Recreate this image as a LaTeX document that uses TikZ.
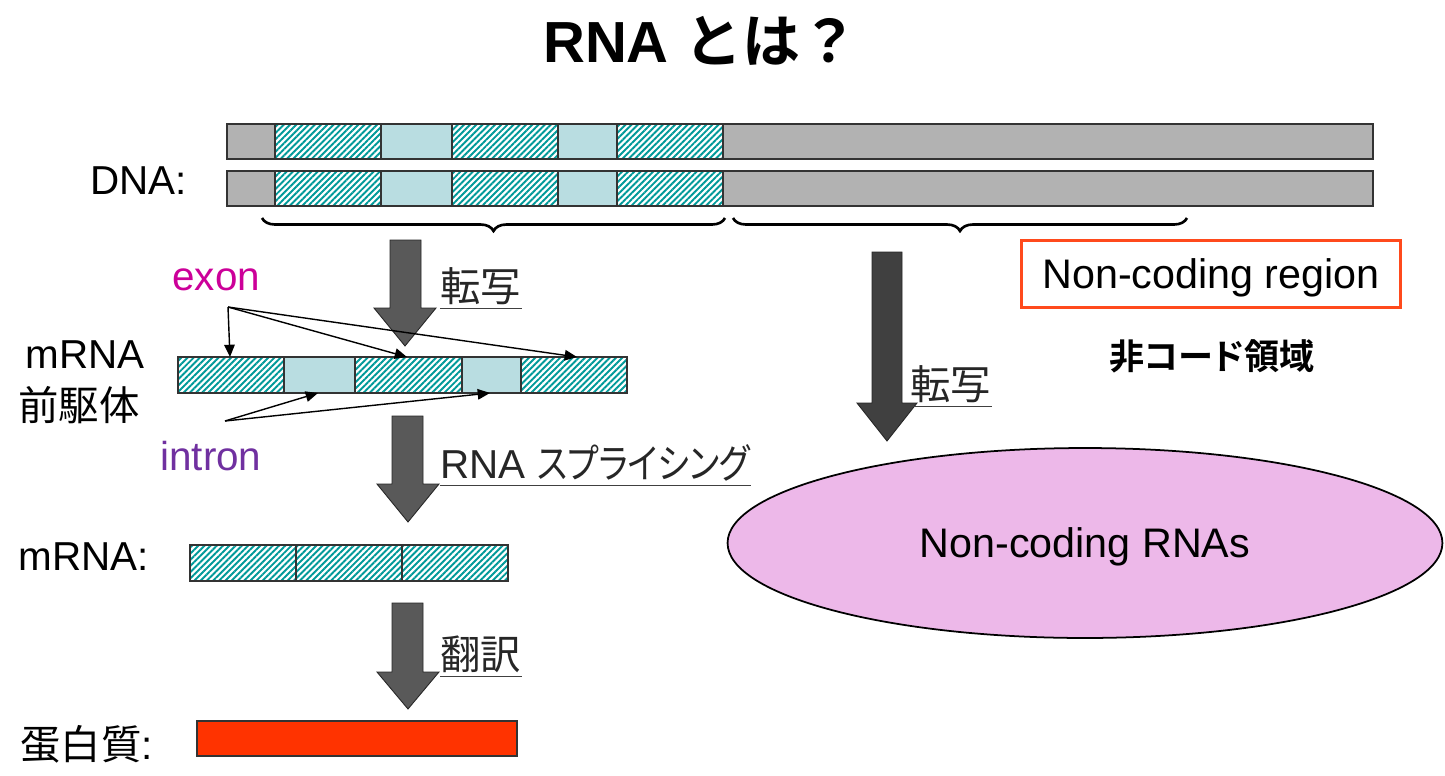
\documentclass[tikz,border=0pt]{standalone}
\usepackage{fontspec}
\setmainfont{Liberation Sans}
\newfontfamily\jpfont[RawFeature=+palt, BoldFont={Noto Sans CJK JP Bold}]{Noto Sans CJK JP}
\newfontfamily\jpwide[BoldFont={Noto Sans CJK JP Bold}]{Noto Sans CJK JP}
\usepackage{tikz}
\usetikzlibrary{arrows.meta,patterns.meta,decorations.pathreplacing,shapes.geometric}
\definecolor{dnagray}{HTML}{B2B2B2}
\definecolor{intronblue}{HTML}{B9DDE1}
\definecolor{exonteal}{HTML}{009999}
\definecolor{exonmagenta}{HTML}{CC0099}
\definecolor{intronpurple}{HTML}{7030A0}
\definecolor{arrowgray}{HTML}{595959}
\definecolor{arrowdark}{HTML}{404040}
\definecolor{proteinred}{HTML}{FF3300}
\definecolor{ncpink}{HTML}{EDB8E9}
\definecolor{ncborder}{HTML}{FF4A1C}

\begin{document}
\begin{tikzpicture}[
  x=0.02cm, y=-0.02cm,
  >=Latex,
  label/.style={font=\fontsize{23}{27}\selectfont, inner sep=0pt, anchor=base west},
  steplabel/.style={font=\fontsize{23}{27}\selectfont, text=black!85, inner sep=0pt, anchor=south west},
  uline/.style={draw=black!75, line width=0.6pt},
  grayseg/.style={draw=black!80, fill=dnagray, line width=0.7pt},
  intronseg/.style={draw=black!80, fill=intronblue, line width=0.7pt},
  exonseg/.style={draw=black!80, line width=0.7pt, pattern={Lines[angle=45,distance=2.5pt,line width=1.1pt]}, pattern color=exonteal},
  blockarrow/.style={draw=black!85, fill=arrowgray, line width=0.5pt, line join=miter},
  pointer/.style={-{Triangle[length=7pt,width=6pt]}, line width=0.8pt},
  bracedown/.style={decorate, decoration={brace, mirror, amplitude=0.26cm}, line width=1.5pt},
  ncbox/.style={draw=ncborder, line width=1.2pt, minimum width=7.58cm, minimum height=1.34cm, inner sep=0pt, text height=16.9pt, text depth=0pt, font=\fontsize{23.5}{28}\selectfont},
  ncellipse/.style={ellipse, draw=black, fill=ncpink, line width=1pt, minimum width=14.3cm, minimum height=3.8cm, inner sep=0pt, text height=16.9pt, text depth=0pt, font=\fontsize{23.5}{28}\selectfont}
]
\useasboundingbox (0,0) rectangle (1445,775);

\node[font=\fontsize{33}{39}\selectfont\bfseries, anchor=base] (title) at (701,62) {RNA {\jpwide とは？}};

% DNA, two strands
\node[label] (dnalbl) at (90,194) {DNA:};
\draw[grayseg] (227,124) rectangle (275,159);
\draw[exonseg] (275,124) rectangle (381,159);
\draw[intronseg] (381,124) rectangle (452,159);
\draw[exonseg] (452,124) rectangle (558,159);
\draw[intronseg] (558,124) rectangle (617,159);
\draw[exonseg] (617,124) rectangle (723,159);
\draw[grayseg] (723,124) rectangle (1373,159);

\draw[grayseg] (227,171) rectangle (275,206);
\draw[exonseg] (275,171) rectangle (381,206);
\draw[intronseg] (381,171) rectangle (452,206);
\draw[exonseg] (452,171) rectangle (558,206);
\draw[intronseg] (558,171) rectangle (617,206);
\draw[exonseg] (617,171) rectangle (723,206);
\draw[grayseg] (723,171) rectangle (1373,206);

\draw[bracedown] (262,218) -- (725,218);
\draw[bracedown] (733,218) -- (1187,218);

% coding side
\draw[blockarrow] (390,240) -- (421,240) -- (421,308) -- (436,308) -- (405,346) -- (374,308) -- (390,308) -- cycle;
\node[steplabel] (trleft) at (440,305) {\jpfont 転写};
\draw[uline] ([yshift=-2pt]trleft.south west) -- ([yshift=-2pt]trleft.south east);

\node[label, text=exonmagenta] (exonlbl) at (172,290) {exon};
\node[label] (premrna) at (25,368) {mRNA};
\node[label] (premrnajp) at (18,420) {\jpfont 前駆体};
\node[label, text=intronpurple] (intronlbl) at (160,470) {intron};

\draw[exonseg] (178,357) rectangle (284,393);
\draw[intronseg] (284,357) rectangle (355,393);
\draw[exonseg] (355,357) rectangle (462,393);
\draw[intronseg] (462,357) rectangle (521,393);
\draw[exonseg] (521,357) rectangle (627,393);

\coordinate (exonfrom) at (228,307);
\coordinate (exonA) at (230,357);
\coordinate (exonB) at (407,357);
\coordinate (exonC) at (577,357);
\coordinate (intronfrom) at (225,421);
\coordinate (intronA) at (318,393);
\coordinate (intronB) at (490,393);
\draw[pointer] (exonfrom) -- (exonA);
\draw[pointer] (exonfrom) -- (exonB);
\draw[pointer] (exonfrom) -- (exonC);
\draw[pointer] (intronfrom) -- (intronA);
\draw[pointer] (intronfrom) -- (intronB);

\draw[blockarrow] (392,416) -- (423,416) -- (423,484) -- (439,484) -- (408,522) -- (377,484) -- (392,484) -- cycle;
\node[steplabel] (splice) at (440,482) {RNA \scalebox{0.84}[1]{\jpfont スプライシング}};
\draw[uline] ([yshift=-2pt]splice.south west) -- ([yshift=-2pt]splice.south east);

\node[label] (mrnalbl) at (18,570) {mRNA:};
\draw[exonseg] (190,545) rectangle (296,581);
\draw[exonseg] (296,545) rectangle (402,581);
\draw[exonseg] (402,545) rectangle (508,581);

\draw[blockarrow] (392,603) -- (423,603) -- (423,672) -- (439,672) -- (408,709) -- (377,672) -- (392,672) -- cycle;
\node[steplabel] (translate) at (440,673) {\jpfont 翻訳};
\draw[uline] ([yshift=-2pt]translate.south west) -- ([yshift=-2pt]translate.south east);

\node[label] (protlbl) at (20,759) {{\jpfont 蛋白質}:};
\draw[draw=black!80, fill=proteinred, line width=0.7pt] (197,721) rectangle (517,756);

% non-coding side
\node[ncbox] (ncregion) at (1211,274) {Non-coding region};
\node[font=\fontsize{20}{24}\selectfont\jpfont\bfseries, anchor=base] (ncjp) at (1212,369) {非コード領域};

\draw[blockarrow, fill=arrowdark] (872,252) -- (902,252) -- (902,403) -- (917,403) -- (887,441) -- (857,403) -- (872,403) -- cycle;
\node[steplabel] (trright) at (910,403) {\jpfont 転写};
\draw[uline] ([yshift=-2pt]trright.south west) -- ([yshift=-2pt]trright.south east);

\node[ncellipse] (ncrna) at (1085,543) {Non-coding RNAs};
\end{tikzpicture}
\end{document}
